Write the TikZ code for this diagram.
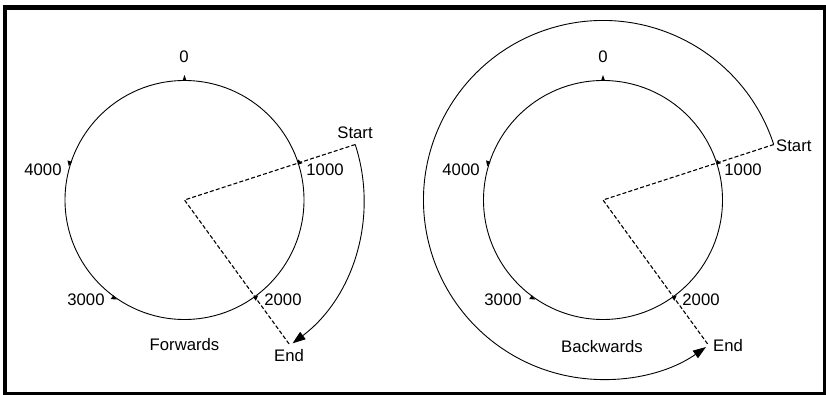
\documentclass[tikz,border=0pt]{standalone}
\usepackage{fontspec}
\setmainfont{Liberation Sans}
\usetikzlibrary{arrows.meta,calc}
\tikzset{
  lbl/.style={anchor=base,inner sep=0pt,font=\fontsize{16.7}{20}\selectfont},
  lblw/.style={lbl,anchor=base west},
  dial/.style={line width=0.9pt},
  radius line/.style={line width=1.1pt,dash pattern=on 4pt off 2.2pt},
  motion/.style={line width=0.9pt,-{Triangle[length=13pt,width=9pt]}},
  frame/.style={line width=4.6pt},
  tickmark/.style={fill=black}
}
\begin{document}
\begin{tikzpicture}[x=1pt,y=1pt]
\useasboundingbox (0,0) rectangle (826,395);
\draw[frame] (5,0.5) rectangle (825,387.5);

% ---------- Forwards ----------
\coordinate (cL) at (184.5,195);
\coordinate (sL) at ($(cL)+(18:179.5)$);
\coordinate (eL) at ($(cL)+(-54:179.5)$);
\draw[dial] (cL) circle[radius=119.5];
\fill[tickmark,shift={(cL)}] (0,119.3) -- (2,119.3) -- (0,125) -- (-2,119.3) -- cycle;
\foreach \a in {18,-54,-126,162}{
  \fill[tickmark,shift={(cL)},rotate=\a] (118.8,-1.5) -- (123.5,-1.5) -- (120.5,3.5) -- cycle;
}
\draw[radius line] (sL) -- (cL) -- (eL);
\draw[motion] (sL) arc[start angle=18,end angle=-53,radius=179.5];
\node[lbl] (zL) at (184,332) {0};
\node[lbl] (kL1) at (325,219) {1000};
\node[lbl] (kL2) at (283,89) {2000};
\node[lbl] (kL3) at (86,89) {3000};
\node[lbl] (kL4) at (43,219) {4000};
\node[lbl] (stL) at (355,256) {Start};
\node[lbl] (enL) at (289,33) {End};
\node[lbl] (fw) at (184.5,44) {Forwards};

% ---------- Backwards ----------
\coordinate (cR) at (603,195);
\coordinate (sR) at ($(cR)+(18:179.5)$);
\coordinate (eR) at ($(cR)+(-54:179.5)$);
\draw[dial] (cR) circle[radius=119.5];
\fill[tickmark,shift={(cR)}] (0,119.3) -- (2,119.3) -- (0,125) -- (-2,119.3) -- cycle;
\foreach \a in {18,-54,-126,162}{
  \fill[tickmark,shift={(cR)},rotate=\a] (118.8,-1.5) -- (123.5,-1.5) -- (120.5,3.5) -- cycle;
}
\draw[radius line] (sR) -- (cR) -- (eR);
\draw[motion] (sR) arc[start angle=18,end angle=305,radius=179.5];
\node[lbl] (zR) at (603,332) {0};
\node[lbl] (kR1) at (743,219) {1000};
\node[lbl] (kR2) at (701,89) {2000};
\node[lbl] (kR3) at (503,89) {3000};
\node[lbl] (kR4) at (461,219) {4000};
\node[lblw] (stR) at (776,243) {Start};
\node[lblw] (enR) at (713,43) {End};
\node[lbl] (bw) at (602,42) {Backwards};
\end{tikzpicture}
\end{document}
